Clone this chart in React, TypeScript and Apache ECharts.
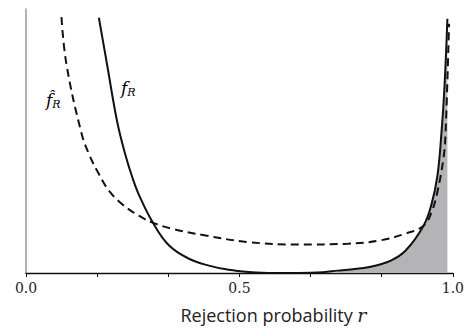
import React, { useEffect, useRef } from "react";
import * as echarts from "echarts";

// r values and density (arbitrary units, 0..10)
const solidR = [0.1707, 0.19, 0.2135, 0.2321, 0.2498, 0.2654, 0.2964, 0.3353, 0.3818, 0.4284, 0.4749, 0.5215, 0.58, 0.638, 0.696, 0.731, 0.754, 0.8079, 0.8545, 0.8894, 0.9313, 0.9499, 0.9639, 0.9732, 0.9802, 0.9872];
const solidY = [9.67, 7.89, 5.74, 4.52, 3.59, 2.93, 1.93, 1.04, 0.54, 0.28, 0.12, 0.04, 0.0, 0.0, 0.03, 0.09, 0.12, 0.24, 0.47, 0.85, 1.79, 2.6, 3.7, 5.3, 7.0, 9.63];

const dashR = [0.0831, 0.0948, 0.1297, 0.1474, 0.1723, 0.1956, 0.2265, 0.2654, 0.2964, 0.343, 0.4207, 0.5215, 0.638, 0.754, 0.8312, 0.8864, 0.9313, 0.9499, 0.9639, 0.9779, 0.983, 0.991];
const dashY = [9.69, 7.9, 5.31, 4.51, 3.7, 3.09, 2.59, 2.16, 1.91, 1.67, 1.42, 1.17, 1.08, 1.11, 1.24, 1.48, 1.79, 2.3, 3.09, 4.33, 5.37, 9.44];

const fillStart = 0.7;
const tickLabels: Record<string, string> = { "0": "0.0", "0.5": "0.5", "1": "1.0" };

export default function App() {
  const ref = useRef<HTMLDivElement>(null);
  useEffect(() => {
    document.body.style.margin = "0";
    if (!ref.current) return;
    const chart = echarts.init(ref.current, undefined, { renderer: "svg" });
    const solid = solidR.map((r, i) => [r, solidY[i]]);
    const dashed = dashR.map((r, i) => [r, dashY[i]]);
    const fill = solid.filter((p) => p[0] >= fillStart);
    chart.setOption({
      animation: false,
      grid: { left: 26, right: 11.5, top: 9, bottom: 49 },
      xAxis: {
        type: "value",
        min: 0,
        max: 1,
        interval: 1 / 6,
        splitLine: { show: false },
        axisLine: { lineStyle: { color: "#111", width: 1.3 } },
        axisTick: { length: 4, lineStyle: { color: "#111", width: 1 } },
        axisLabel: {
          margin: 8,
          fontFamily: "DejaVu Serif",
          fontSize: 14,
          color: "#222",
          formatter: (v: number) => {
            const k = Math.round(v * 1000) / 1000;
            return tickLabels[String(k)] ?? "";
          },
        },
        name: "{a|Rejection probability }{b|r}",
        nameLocation: "middle",
        nameGap: 32,
        nameTextStyle: {
          padding: [0, 0, 0, 68],
          rich: {
            a: { fontFamily: "Open Sans", fontSize: 18, color: "#222" },
            b: { fontFamily: "DejaVu Serif", fontStyle: "italic", fontSize: 19, color: "#222" },
          },
        },
      },
      yAxis: {
        type: "value",
        min: 0,
        max: 10,
        splitLine: { show: false },
        axisLabel: { show: false },
        axisTick: { show: false },
        axisLine: { show: true, lineStyle: { color: "#999", width: 1.5 } },
      },
      series: [
        {
          type: "line",
          data: fill,
          smooth: 0.4,
          symbol: "none",
          lineStyle: { width: 0 },
          areaStyle: { color: "#b4b4b6", opacity: 1 },
          z: 1,
        },
        {
          type: "line",
          data: dashed,
          smooth: 0.4,
          symbol: "none",
          lineStyle: { color: "#111", width: 2, type: [8, 5] },
          z: 3,
        },
        {
          type: "line",
          data: solid,
          smooth: 0.4,
          symbol: "none",
          lineStyle: { color: "#111", width: 2 },
          z: 4,
        },
      ],
      graphic: [
        {
          type: "text",
          x: 46,
          y: 100,
          style: {
            text: "{f|f\u0302}{s|R}",
            verticalAlign: "middle",
            rich: {
              f: { fontFamily: "DejaVu Serif", fontStyle: "italic", fontSize: 17, color: "#222" },
              s: { fontFamily: "DejaVu Serif", fontStyle: "italic", fontSize: 11, color: "#222", padding: [8, 0, 0, 0] },
            },
          },
        },
        {
          type: "text",
          x: 121,
          y: 88,
          style: {
            text: "{f|f}{s|R}",
            verticalAlign: "middle",
            rich: {
              f: { fontFamily: "DejaVu Serif", fontStyle: "italic", fontSize: 17, color: "#222" },
              s: { fontFamily: "DejaVu Serif", fontStyle: "italic", fontSize: 11, color: "#222", padding: [8, 0, 0, 0] },
            },
          },
        },
      ],
    });
    return () => chart.dispose();
  }, []);
  return <div ref={ref} style={{ width: 467, height: 329 }} />;
}
